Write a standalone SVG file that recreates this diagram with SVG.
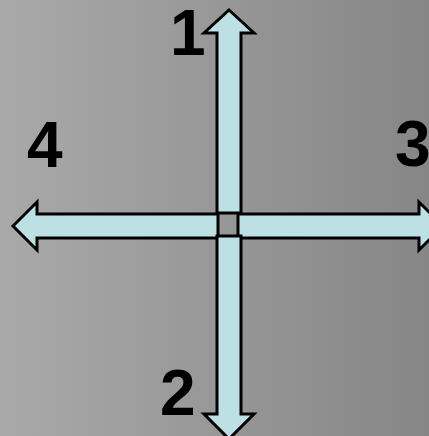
<svg xmlns="http://www.w3.org/2000/svg" width="429" height="436" viewBox="0 0 429 436">
<defs>
<linearGradient id="bg" x1="0" y1="0" x2="1" y2="0">
<stop offset="0" stop-color="#a9a9a9"/>
<stop offset="1" stop-color="#868686"/>
</linearGradient>
<style>
.arrow{fill:#bde0e4;stroke:#000;stroke-width:3;stroke-linejoin:miter}
.lbl{font-family:"Liberation Sans",Arial,sans-serif;font-weight:bold;font-size:64px;fill:#000}
</style>
</defs>
<rect width="429" height="436" fill="url(#bg)"/>
<g id="connectors">
<g id="arrow-up"><polygon class="arrow" points="229,10 254,33 241,33 241,213 217,213 217,33 204,33"/></g>
<g id="arrow-left"><polygon class="arrow" points="13,226 37,202 37,214 218,214 218,238 37,238 37,250"/></g>
<g id="arrow-right"><polygon class="arrow" points="443,226 419,202 419,214 238,214 238,238 419,238 419,250"/></g>
<g id="arrow-down"><polygon class="arrow" points="229,439 254,414 241,414 241,236 217,236 217,414 204,414"/></g>
</g>
<g id="label-1"><text class="lbl" x="170" y="55">1</text></g>
<g id="label-2"><text class="lbl" x="160" y="415">2</text></g>
<g id="label-3"><text class="lbl" x="395" y="166">3</text></g>
<g id="label-4"><text class="lbl" x="27" y="167">4</text></g>
</svg>
